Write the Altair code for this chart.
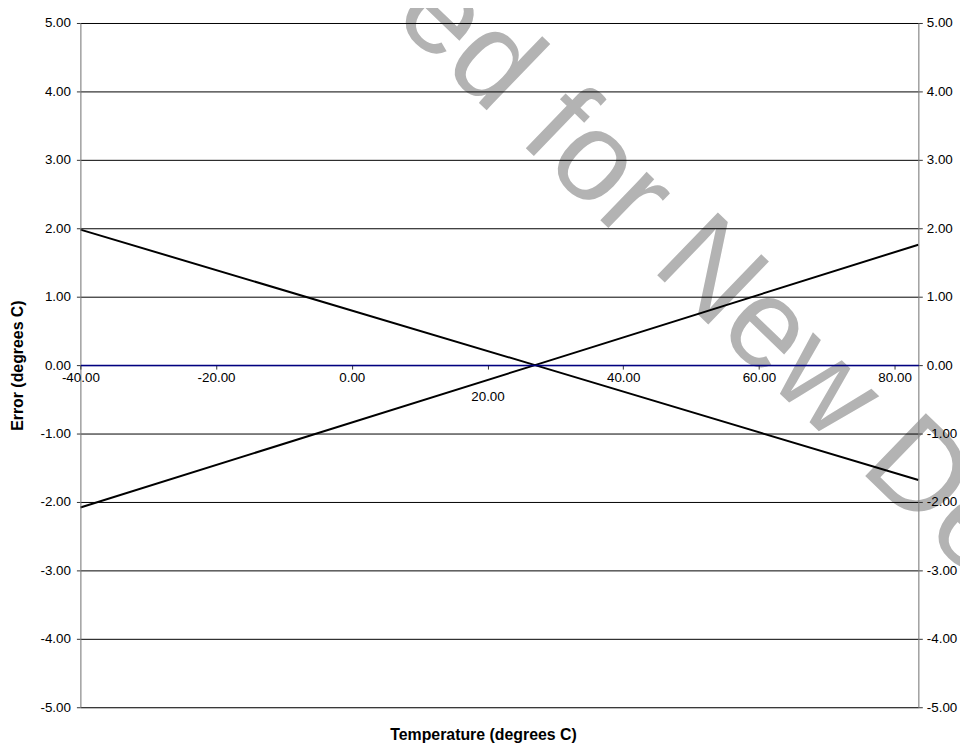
import altair as alt
import pandas as pd

# ---- data ----
temps = [-40.0, 27.0, 83.5]
error_falling = [1.98, 0.0, -1.68]
error_rising = [-2.08, 0.0, 1.76]
x_ticks = [-40, -20, 0, 20, 40, 60, 80]
y_ticks = [-5, -4, -3, -2, -1, 0, 1, 2, 3, 4, 5]
watermark_text = "Licensed for New Developers"

rows = []
for t, a, b in zip(temps, error_falling, error_rising):
    rows.append({"temp": t, "error": a, "series": "falling"})
    rows.append({"temp": t, "error": b, "series": "rising"})
df = pd.DataFrame(rows)

W, H = 845, 690
FONT = "Liberation Sans"
LABEL_EXPR = "(datum.value < 0 ? '-' : '') + format(abs(datum.value), '.2f')"

xscale = alt.Scale(domain=[-40, 83.5], nice=False, zero=False)
yscale = alt.Scale(domain=[-5, 5], nice=False)

x_axis = alt.Axis(
    values=x_ticks, labelExpr=LABEL_EXPR, offset=-H / 2, grid=False,
    domainColor="#000080", domainWidth=1.5, tickColor="#333333", tickSize=4,
    labelFont=FONT, labelFontSize=13.5, labelColor="black", labelFlush=False,
    labelOverlap=False, labelBound=False,
    labelPadding={"condition": {"test": "datum.value === 20", "value": 21}, "value": 2},
    title="Temperature (degrees C)", titleFont=FONT, titleFontSize=16,
    titleFontWeight="bold", titleColor="black", titleX=406, titleY=373,
    titleAlign="center", titleBaseline="middle", zindex=2,
)
y_axis = alt.Axis(
    values=y_ticks, labelExpr=LABEL_EXPR, orient="left",
    grid=True, gridColor={"condition": {"test": "datum.value === 0", "value": "#000080"}, "value": "black"},
    gridWidth=1, gridOpacity=1,
    domainColor="#808080", domainWidth=1, tickColor="#333333", tickSize=4,
    labelFont=FONT, labelFontSize=13.5, labelColor="black", labelPadding=6,
    labelFlush=False, labelOverlap=False, labelBound=False,
    title="Error (degrees C)", titleFont=FONT, titleFontSize=16,
    titleFontWeight="bold", titleColor="black", titleX=-63, titleY=H / 2,
    titleAngle=-90, titleAlign="center", titleBaseline="middle", zindex=1,
)
y_axis_right = alt.Axis(
    values=y_ticks, labelExpr=LABEL_EXPR, orient="right", grid=False,
    domainColor="#808080", domainWidth=1, tickColor="#333333", tickSize=4,
    labelFont=FONT, labelFontSize=13.5, labelColor="black", labelPadding=4,
    labelFlush=False, labelOverlap=False, labelBound=False, title=None, zindex=1,
)

watermark = alt.Chart(pd.DataFrame({"t": [watermark_text]})).mark_text(
    font=FONT, fontSize=128, color="#b3b3b3", angle=44, align="left",
    baseline="alphabetic",
).encode(x=alt.value(47), y=alt.value(-262), text="t:N")

lines = alt.Chart(df).mark_line(color="black", strokeWidth=2).encode(
    x=alt.X("temp:Q", scale=xscale, axis=x_axis),
    y=alt.Y("error:Q", scale=yscale, axis=y_axis),
    detail="series:N",
)

right_axis = alt.Chart(df).mark_point(opacity=0).encode(
    y=alt.Y("error:Q", scale=yscale, axis=y_axis_right),
)

chart = alt.layer(watermark, lines, right_axis).resolve_scale(y="independent").properties(
    width=W, height=H,
    autosize=alt.AutoSizeParams(type="none"),
    padding={"left": 73, "top": 12, "right": 42, "bottom": 40},
).configure_view(stroke=None).configure(background="white")

chart.save("out.html", embed_options={"renderer": "svg", "actions": False})
